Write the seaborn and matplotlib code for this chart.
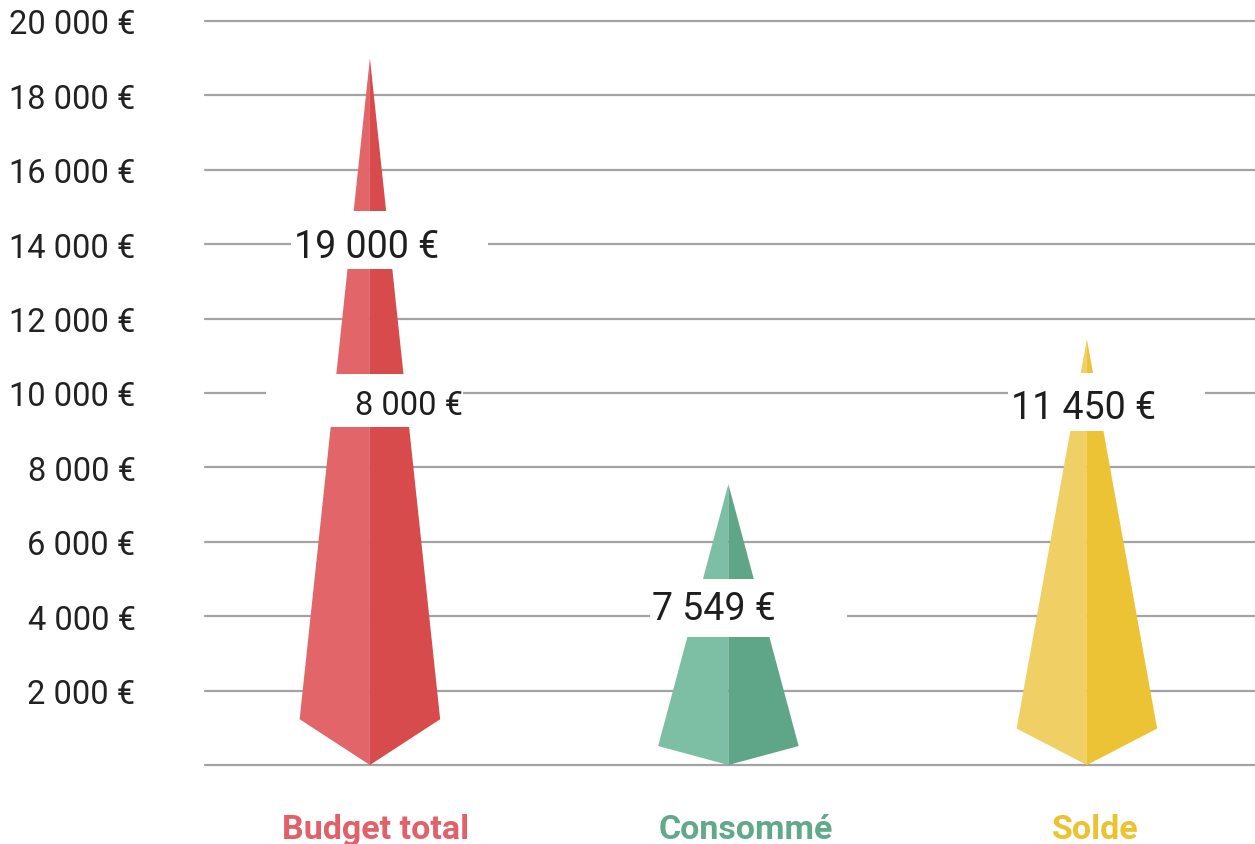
import matplotlib
matplotlib.use("Agg")
import matplotlib.pyplot as plt
from matplotlib.patches import Polygon, Rectangle
import seaborn as sns

# ---- data ----
categories = ["Budget total", "Consommé", "Solde"]
values = [19000, 7549, 11450]
value_labels = ["19 000 €", "7 549 €", "11 450 €"]
extra_value = 8000
extra_label = "8 000 €"
yticks = list(range(0, 20001, 2000))
ytick_labels = ["", "2 000 €", "4 000 €", "6 000 €", "8 000 €", "10 000 €",
                "12 000 €", "14 000 €", "16 000 €", "18 000 €", "20 000 €"]

# ---- styling / layout ----
light = ["#E26569", "#7DBFA5", "#F0D064"]
dark = ["#D84B4C", "#5FA688", "#EDC336"]
cat_colors = ["#E2606A", "#62A98B", "#ECC230"]
cat_offsets = [0.016, 0.05, 0.022]
shoulder = [1230, 510, 980]      # height of the lower corners
half_w = 0.196
box_y = [14120, 4220, 9760]
text_y = [13950, 4200, 9620]
extra_box_y = 9800
extra_text_y = 9690

sns.set_theme(style="white")
plt.rcParams["font.family"] = ["Roboto", "DejaVu Sans"]

fig = plt.figure(figsize=(12.55, 8.45), dpi=100)
ax = fig.add_axes([205 / 1255, (845 - 766) / 845, 1050 / 1255, (766 - 22) / 845])

ax.set_xlim(-0.46, 2.469)
ax.set_ylim(0, 20000)
ax.set_yticks(yticks)
ax.set_yticklabels(ytick_labels, fontsize=23.5, color="#222222")
ax.tick_params(axis="y", length=0, pad=50)
ax.yaxis.grid(True, color="#A3A3A3", linewidth=1.6, zorder=0)
for gl in ax.get_ygridlines():
    gl.set_clip_on(False)
ax.set_axisbelow(True)

ax.set_xticks([])
for i, (cat, col, off) in enumerate(zip(categories, cat_colors, cat_offsets)):
    ax.text(i + off, -0.086, cat, transform=ax.get_xaxis_transform(),
            fontsize=24.5, fontweight="bold", color=col,
            ha="center", va="center", clip_on=False)

sns.despine(ax=ax, left=True, bottom=True)

for i, (v, s) in enumerate(zip(values, shoulder)):
    x = i
    left_half = Polygon([(x, v), (x - half_w, s), (x, 0)], closed=True,
                        facecolor=light[i], edgecolor="none", zorder=2)
    right_half = Polygon([(x, v), (x, 0), (x + half_w, s)], closed=True,
                         facecolor=dark[i], edgecolor="none", zorder=2)
    ax.add_patch(left_half)
    ax.add_patch(right_half)

box_h = 1560
for i, (lab, by, ty) in enumerate(zip(value_labels, box_y, text_y)):
    ax.add_patch(Rectangle((i - 0.22, by - box_h / 2), 0.55, box_h,
                           facecolor="white", edgecolor="none", zorder=3))
    ax.text(i - 0.212, ty, lab, fontsize=27, color="#1E1E1E",
            ha="left", va="center", zorder=4)

ax.add_patch(Rectangle((-0.29, extra_box_y - 1420 / 2), 0.55, 1420,
                       facecolor="white", edgecolor="none", zorder=3))
ax.text(0.26, extra_text_y, extra_label, fontsize=23.5, color="#1E1E1E",
        ha="right", va="center", zorder=4)

fig.savefig("out.png", dpi=100)
